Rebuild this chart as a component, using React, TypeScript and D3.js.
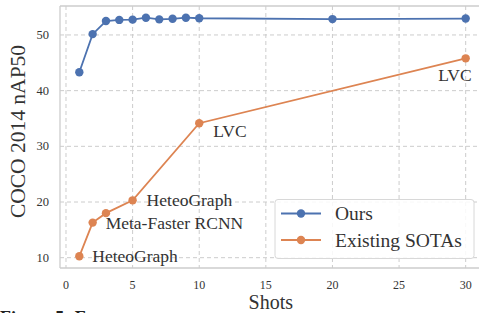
import React from "react";
import * as d3 from "d3";

const shots = [1, 2, 3, 4, 5, 6, 7, 8, 9, 10, 20, 30];
const ours = [43.3, 50.15, 52.5, 52.7, 52.75, 53.1, 52.8, 52.9, 53.1, 53.0, 52.85, 52.95];

const sotaShots = [1, 2, 3, 5, 10, 30];
const sota = [10.25, 16.3, 18.0, 20.3, 34.15, 45.8];

// label, anchor shot, anchor value, pixel offset
const notes = [
  { text: "HeteoGraph", x: 1, y: 10.25, dx: 13, dy: 0, anchor: "start" },
  { text: "Meta-Faster RCNN", x: 2, y: 16.3, dx: 13, dy: 0, anchor: "start" },
  { text: "HeteoGraph", x: 5, y: 20.3, dx: 14, dy: 0, anchor: "start" },
  { text: "LVC", x: 10, y: 34.15, dx: 14, dy: 8, anchor: "start" },
  { text: "LVC", x: 30, y: 45.8, dx: 6, dy: 17, anchor: "end" },
];

const xTicks = [0, 5, 10, 15, 20, 25, 30];
const yTicks = [10, 20, 30, 40, 50];

const BLUE = "#4c72b0";
const ORANGE = "#dd8452";
const FONT = "'Liberation Serif', serif";

export default function App() {
  const width = 479;
  const height = 313;

  const x = d3.scaleLinear().domain([-0.45, 31.45]).range([60, 485]);
  const y = d3.scaleLinear().domain([8.15, 55.2]).range([268, 6]);

  const line = d3
    .line<[number, number]>()
    .x((d) => x(d[0]))
    .y((d) => y(d[1]));

  const oursPts: [number, number][] = shots.map((s, i) => [s, ours[i]]);
  const sotaPts: [number, number][] = sotaShots.map((s, i) => [s, sota[i]]);

  return (
    <svg
      width={width}
      height={height}
      style={{ position: "absolute", left: 0, top: 0, fontFamily: FONT }}
    >
      <rect width={width} height={height} fill="white" />
      {/* grid */}
      {xTicks.map((t) => (
        <line key={"gx" + t} x1={x(t)} x2={x(t)} y1={6} y2={268} stroke="#cccccc" strokeDasharray="4,3" strokeWidth={1} />
      ))}
      {yTicks.map((t) => (
        <line key={"gy" + t} x1={60} x2={485} y1={y(t)} y2={y(t)} stroke="#cccccc" strokeDasharray="4,3" strokeWidth={1} />
      ))}
      {/* spines */}
      <line x1={60} x2={60} y1={6} y2={268} stroke="#cccccc" strokeWidth={1.3} />
      <line x1={60} x2={485} y1={6} y2={6} stroke="#cccccc" strokeWidth={1.3} />
      <line x1={60} x2={485} y1={268} y2={268} stroke="#cccccc" strokeWidth={1.3} />

      {/* tick labels */}
      {xTicks.map((t) => (
        <text key={"tx" + t} x={x(t)} y={289} textAnchor="middle" fontSize={12} fill="#333">
          {t}
        </text>
      ))}
      {yTicks.map((t) => (
        <text key={"ty" + t} x={49} y={y(t)} textAnchor="end" dominantBaseline="central" fontSize={12.5} fill="#333">
          {t}
        </text>
      ))}

      {/* axis titles */}
      <text x={x(15) + 5} y={309} textAnchor="middle" fontSize={20} fill="#333">
        Shots
      </text>
      <text
        transform={`translate(25,131.5) rotate(-90)`}
        textAnchor="middle"
        fontSize={21.5}
        fill="#333"
      >
        COCO 2014 nAP50
      </text>

      {/* series */}
      <path d={line(oursPts) ?? ""} fill="none" stroke={BLUE} strokeWidth={1.8} />
      {oursPts.map((p, i) => (
        <circle key={"o" + i} cx={x(p[0])} cy={y(p[1])} r={4.2} fill={BLUE} />
      ))}
      <path d={line(sotaPts) ?? ""} fill="none" stroke={ORANGE} strokeWidth={1.8} />
      {sotaPts.map((p, i) => (
        <circle key={"s" + i} cx={x(p[0])} cy={y(p[1])} r={4.2} fill={ORANGE} />
      ))}

      {/* annotations */}
      {notes.map((n, i) => (
        <text
          key={"n" + i}
          x={x(n.x) + n.dx}
          y={y(n.y) + n.dy}
          textAnchor={n.anchor as "start" | "end"}
          dominantBaseline="central"
          fontSize={17.5}
          fill="#333"
        >
          {n.text}
        </text>
      ))}

      {/* legend */}
      <g>
        <rect x={275} y={199.5} width={199} height={59} rx={3} fill="white" fillOpacity={0.85} stroke="#d8d8d8" strokeWidth={1} />
        {[
          { label: "Ours", color: BLUE },
          { label: "Existing SOTAs", color: ORANGE },
        ].map((l, i) => (
          <g key={l.label} transform={`translate(0,${213.5 + i * 26.5})`}>
            <line x1={281} x2={321} y1={0} y2={0} stroke={l.color} strokeWidth={1.8} />
            <circle cx={301} cy={0} r={4.2} fill={l.color} />
            <text x={335} y={0} dominantBaseline="central" fontSize={19.5} fill="#333">
              {l.label}
            </text>
          </g>
        ))}
      </g>

      {/* cropped caption */}
      <text x={0} y={324} fontSize={18} fontWeight="bold" fill="#222">
        Figure 5: F
      </text>
    </svg>
  );
}
